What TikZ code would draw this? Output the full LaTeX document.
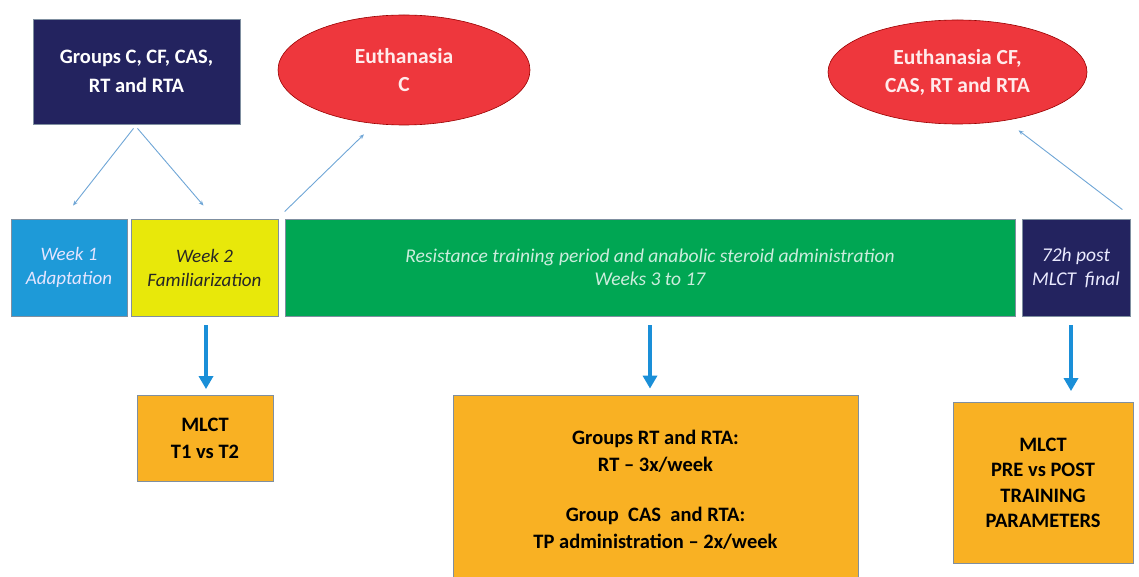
\documentclass[tikz,border=0pt]{standalone}
\usepackage{fontspec}
\setmainfont{Carlito}
\usetikzlibrary{arrows.meta,calc,shapes.geometric}
\definecolor{navy}{HTML}{23235F}
\definecolor{wkblue}{HTML}{1E9AD8}
\definecolor{wkyellow}{HTML}{E8E80A}
\definecolor{grn}{HTML}{00A653}
\definecolor{redE}{HTML}{EE373D}
\definecolor{org}{HTML}{F9B123}
\definecolor{arrblue}{HTML}{1A8FD8}
\definecolor{thinblue}{HTML}{6FA6D6}
\definecolor{edgegrey}{HTML}{7F8FA0}
\tikzset{
  box/.style={rectangle, draw=edgegrey, line width=0.8pt, align=center, inner sep=0pt},
  navybox/.style={box, fill=navy, text=white, font=\bfseries\fontsize{20.5}{29}\selectfont},
  weekbox/.style={box, font=\itshape\fontsize{19}{24}\selectfont},
  evt/.style={ellipse, draw=red!60!black, line width=0.6pt, fill=redE, text=white!92!red, align=center, inner sep=0pt, font=\bfseries\fontsize{21.5}{28}\selectfont},
  orgbox/.style={box, fill=org, font=\bfseries\fontsize{20.5}{27}\selectfont},
  thinarrow/.style={draw=thinblue, line width=0.9pt, -{Stealth[length=5pt,width=4pt]}},
  bigarrow/.style={draw=arrblue, line width=3.5pt, -{Triangle[length=13pt,width=14pt]}}
}
\begin{document}
\begin{tikzpicture}[x=1pt,y=-1pt]
\useasboundingbox (0,0) rectangle (1139,577);
\clip (0,0) rectangle (1139,577);
% top
\node[navybox, minimum width=207pt, minimum height=105pt] (groups) at (136.5,71.5) {Groups C, CF, CAS,\\RT and RTA};
\node[evt, minimum width=252pt, minimum height=110pt] (euthC) at (404,70) {Euthanasia\\C};
\node[evt, minimum width=259pt, minimum height=104pt] (euthAll) at (957.5,72) {Euthanasia CF,\\CAS, RT and RTA};
% timeline
\node[weekbox, fill=wkblue, text=white!90!blue, minimum width=116pt, minimum height=97pt] (w1) at (69,267.5) {Week 1\\Adaptation};
\node[weekbox, fill=wkyellow, text=black!85, minimum width=147pt, minimum height=97pt] (w2) at (204.5,267.5) {Week 2\\Familiarization};
\node[box, fill=grn, text=white!80!grn, font=\itshape\fontsize{19.5}{23}\selectfont, minimum width=730pt, minimum height=97pt] (train) at (650,267.5) {Resistance training period and anabolic steroid administration\\Weeks 3 to 17};
\node[box, fill=navy, text=white!92!blue, font=\itshape\fontsize{19.5}{24}\selectfont, minimum width=108pt, minimum height=97pt] (post) at (1076,267.5) {72h post\\MLCT~~final};
% bottom
\node[orgbox, minimum width=136pt, minimum height=86pt] (mlct1) at (205,438.5) {MLCT\\T1 vs T2};
\node[orgbox, minimum width=405pt, minimum height=200pt, text depth=0pt] (rtbox) at (655.5,495) {};
\node[align=center, font=\bfseries\fontsize{20.5}{27}\selectfont] (rttext) at (655.5,490) {Groups RT and RTA:\\RT -- 3x/week\\[23pt]Group~ CAS~ and RTA:\\TP administration -- 2x/week};
\node[orgbox, font=\bfseries\fontsize{20.5}{25.5}\selectfont, minimum width=180pt, minimum height=161pt] (mlct2) at (1043,483) {MLCT\\PRE vs POST\\TRAINING\\PARAMETERS};
% thin connectors
\draw[thinarrow] ([xshift=-3pt,yshift=-4pt]groups.south) -- ([xshift=4pt,yshift=13pt]w1.north);
\draw[thinarrow] ([xshift=1pt,yshift=-4pt]groups.south) -- ([xshift=-1pt,yshift=13pt]w2.north);
\draw[thinarrow] ([yshift=7pt]train.north west) -- ([xshift=-40pt,yshift=-9pt]euthC.south);
\draw[thinarrow] ([xshift=-8pt,yshift=9pt]post.north east) -- ([xshift=61pt,yshift=-6pt]euthAll.south);
% thick arrows
\draw[bigarrow] ([xshift=1.5pt,yshift=-9pt]w2.south) -- ([xshift=1.5pt,yshift=6pt]w2.south |- mlct1.north);
\draw[bigarrow] ([yshift=-9pt]train.south) -- ([yshift=6pt]train.south |- rtbox.north);
\draw[bigarrow] ([xshift=-5pt,yshift=-9pt]post.south) -- ([xshift=-5pt,yshift=11pt]post.south |- mlct2.north);
\end{tikzpicture}
\end{document}
